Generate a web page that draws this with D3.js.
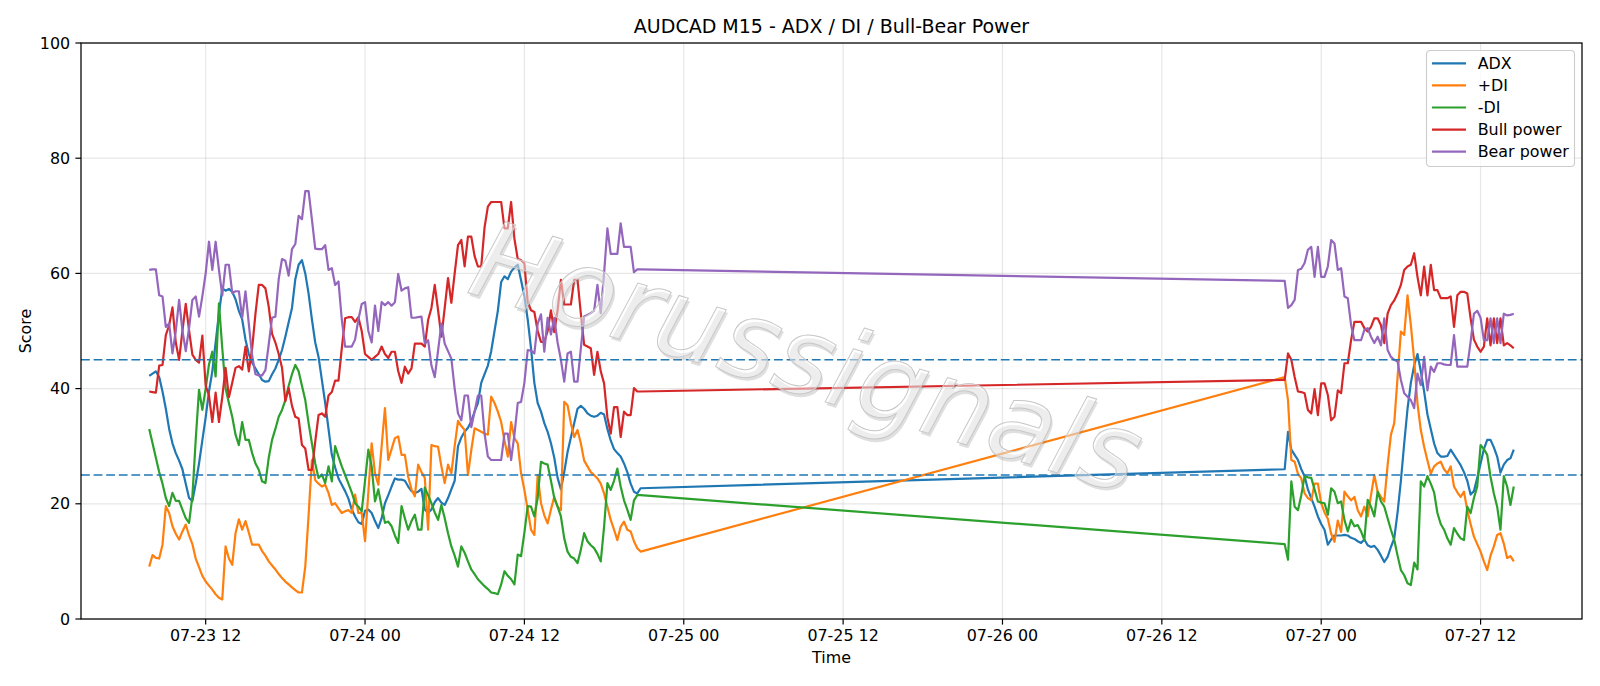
<!DOCTYPE html>
<html>
<head>
<meta charset="utf-8">
<script src="https://cdn.jsdelivr.net/npm/d3@7"></script>
<style>
  body { margin: 0; background: #fff; }
  text { font-family: 'DejaVu Sans', sans-serif; }
</style>
</head>
<body>
<svg id="mainsvg" width="1600" height="686"></svg>
<script>
// M15 bars, two trading sessions (weekend gap in between)
const sessions = [
  ['2026-07-23T07:45:00Z', '2026-07-24T20:45:00Z'],
  ['2026-07-26T21:15:00Z', '2026-07-27T14:30:00Z']
];

const adx = [
  42.2, 42.6, 43.0, 42.0, 39.5, 36.5, 33.0, 30.5, 28.8, 27.5,
  26.0, 23.5, 21.0, 20.5, 23.5, 27.0, 31.0, 35.0, 39.5, 43.0,
  48.0, 53.0, 57.4, 57.0, 57.3, 56.8, 55.5, 53.5, 52.0, 48.5,
  46.0, 44.5, 43.5, 42.5, 41.5, 41.2, 41.3, 42.5, 43.5, 45.0,
  46.7, 49.0, 51.5, 54.0, 59.0, 61.5, 62.3, 60.0, 56.5, 52.0,
  48.0, 45.5, 41.5, 37.5, 33.0, 28.5, 26.3, 24.4, 23.3, 22.2,
  20.9, 19.0, 17.8, 16.8, 16.5, 18.8, 19.0, 18.4, 17.0, 15.8,
  17.5, 20.1, 21.5, 23.0, 24.4, 24.2, 24.2, 24.0, 23.0, 22.2,
  21.9, 22.1, 22.6, 19.0, 18.4, 19.0, 20.3, 21.0, 20.2, 19.8,
  21.0, 22.5, 24.0, 30.0, 31.5, 32.5, 33.2, 34.3, 36.0, 37.5,
  41.0, 42.5, 44.0, 46.5, 50.0, 53.5, 58.5, 59.5, 59.0, 60.3,
  61.0, 61.5, 58.8, 56.0, 52.0, 47.0, 41.0, 37.5, 36.0, 34.0,
  32.5, 30.5, 28.0, 24.5, 22.5, 25.5, 29.0, 31.5, 34.0, 36.5,
  37.0, 36.5, 35.7, 35.3, 35.1, 35.3, 35.8, 35.5, 33.0, 31.0,
  29.5, 28.8, 28.2, 27.0, 25.5, 23.5, 22.1, 21.8, 22.7,
  // session 2
  26.0, 32.5, 29.4, 28.5, 27.6, 26.0, 24.8, 22.5, 21.0, 19.5,
  17.8, 16.5, 15.5, 12.9, 13.8, 14.5, 14.5, 14.5, 14.6, 14.5,
  14.1, 13.9, 13.5, 13.2, 13.8, 12.8, 12.5, 12.7, 12.0, 11.0,
  9.9, 10.8, 12.5, 14.0, 18.5, 24.0, 30.5, 36.5, 41.0, 44.0,
  46.0, 43.0, 39.5, 35.5, 33.0, 30.5, 28.8, 28.2, 28.2, 28.3,
  29.4, 28.5, 27.6, 26.7, 25.5, 24.0, 21.6, 22.2, 24.5, 27.0,
  29.5, 31.1, 31.1, 29.8, 28.2, 25.4, 26.8, 27.6, 27.9, 29.4
];

const plusDi = [
  9.1, 11.1, 10.6, 10.5, 12.9, 19.6, 18.4, 16.1, 14.8, 13.8,
  15.2, 16.4, 14.5, 13.0, 10.5, 9.0, 7.5, 6.5, 5.8, 5.1,
  4.3, 3.7, 3.4, 12.6, 10.5, 9.4, 14.9, 17.3, 15.5, 17.0,
  15.0, 12.9, 12.9, 12.9, 11.8, 11.0, 10.0, 9.3, 8.6, 7.8,
  7.1, 6.5, 6.0, 5.5, 5.0, 4.6, 4.6, 9.1, 18.0, 27.6,
  24.1, 23.5, 23.0, 23.3, 21.9, 19.8, 20.1, 19.2, 18.4, 18.7,
  18.9, 18.4, 21.6, 18.4, 18.4, 13.5, 22.0, 30.5, 25.3, 23.3,
  30.0, 36.6, 27.6, 29.5, 31.4, 31.7, 28.5, 28.5, 24.7, 22.5,
  21.3, 26.8, 25.5, 24.5, 15.5, 30.2, 30.0, 29.9, 26.5, 23.6,
  26.8, 25.3, 30.0, 34.4, 33.5, 32.8, 25.0, 29.3, 33.1, 32.8,
  32.5, 32.2, 32.0, 38.6, 37.5, 36.0, 34.2, 31.0, 28.2, 34.2,
  31.4, 30.5, 25.3, 22.4, 19.0, 15.5, 14.6, 25.0, 20.1, 18.0,
  16.6, 19.0, 21.2, 19.5, 18.9, 37.7, 37.1, 34.0, 31.6, 32.8,
  30.5, 27.5, 26.5, 25.5, 25.0, 24.4, 23.5, 21.8, 19.5, 17.2,
  15.5, 13.7, 16.0, 16.9, 15.5, 15.2, 13.5, 12.3, 11.7,
  // session 2
  42.0, 38.0, 27.6, 27.3, 25.2, 24.4, 21.8, 21.0, 20.6, 23.5,
  23.5, 20.1, 18.5, 17.4, 14.8, 13.4, 17.1, 15.1, 22.1, 21.3,
  20.6, 21.2, 18.9, 17.8, 19.5, 17.8, 21.5, 25.0, 22.1, 21.2,
  20.4, 26.7, 32.0, 34.0, 42.0, 49.9, 49.3, 56.2, 51.0, 45.0,
  37.4, 32.8, 29.9, 27.5, 25.2, 26.5, 27.0, 27.3, 26.0, 25.3,
  26.5, 23.0, 22.0, 21.2, 22.1, 18.9, 16.5, 14.3, 13.0, 11.7,
  10.0, 8.5, 11.0, 12.6, 14.6, 14.9, 13.1, 10.6, 10.9, 10.0
];

const minusDi = [
  33.0, 30.5, 28.0, 25.5, 23.5, 21.0, 19.6, 21.9, 20.5, 20.5,
  19.0, 17.5, 16.7, 21.3, 31.1, 39.8, 36.3, 40.0, 44.2, 46.4,
  42.1, 54.8, 47.0, 40.0, 37.5, 35.1, 32.0, 30.2, 34.2, 31.1,
  31.1, 28.8, 27.0, 25.9, 23.9, 23.6, 28.0, 31.1, 33.0, 35.1,
  36.3, 38.0, 40.5, 42.5, 44.1, 43.0, 40.5, 38.0, 34.0, 30.5,
  27.0, 24.5, 25.1, 23.6, 26.5, 23.9, 30.0, 28.2, 26.5, 25.0,
  23.5, 22.0, 20.1, 19.5, 18.7, 24.0, 29.4, 26.5, 20.4, 22.5,
  19.5, 16.7, 16.9, 16.1, 14.5, 13.2, 19.6, 17.5, 15.5, 17.0,
  18.1, 15.5, 15.5, 22.8, 21.5, 20.1, 18.5, 17.2, 19.8, 17.5,
  14.9, 12.6, 11.0, 9.1, 12.6, 11.5, 10.0, 8.6, 7.8, 6.9,
  6.3, 5.7, 5.2, 4.6, 4.5, 4.3, 6.0, 8.3, 7.5, 6.9,
  6.0, 11.2, 10.9, 15.0, 19.6, 19.5, 17.8, 21.0, 27.3, 27.0,
  26.8, 24.0, 21.0, 19.5, 17.8, 14.0, 11.7, 10.8, 10.5, 9.7,
  12.0, 14.9, 13.5, 12.8, 12.3, 11.3, 10.0, 16.0, 23.6, 22.4,
  24.0, 26.1, 23.0, 20.6, 19.0, 17.2, 20.6, 21.5, 21.5,
  // session 2
  13.0, 10.3, 23.9, 19.5, 18.9, 21.5, 24.8, 24.6, 24.5, 22.5,
  20.4, 20.2, 20.1, 18.1, 22.7, 22.1, 20.1, 20.4, 17.2, 15.2,
  17.2, 16.1, 16.3, 15.2, 13.7, 20.7, 19.5, 17.8, 22.1, 20.4,
  19.5, 17.5, 15.5, 13.7, 11.0, 8.5, 7.6, 6.2, 5.9, 9.8,
  8.6, 23.9, 23.0, 24.8, 23.5, 22.0, 18.4, 16.5, 15.5, 14.0,
  12.9, 15.8, 14.8, 14.0, 13.7, 19.5, 18.4, 21.0, 23.0, 30.2,
  29.5, 28.5, 24.7, 21.8, 19.5, 15.5, 24.8, 23.0, 19.8, 23.0
];

const bullPower = [
  39.5, 39.4, 39.3, 44.0, 44.1, 49.3, 51.0, 54.1, 48.0, 45.0,
  50.0, 54.7, 50.1, 45.9, 45.0, 44.5, 49.2, 40.5, 38.8, 34.2,
  39.3, 34.2, 38.5, 43.6, 38.5, 41.0, 43.6, 43.9, 43.3, 47.3,
  43.0, 47.0, 53.0, 58.0, 58.0, 57.4, 54.2, 49.5, 48.0, 46.0,
  43.6, 37.8, 40.1, 37.0, 35.1, 34.8, 30.2, 29.6, 25.9, 25.9,
  30.8, 35.4, 35.7, 35.1, 38.8, 39.4, 41.4, 41.4, 47.0, 52.2,
  52.4, 52.4, 51.6, 52.4, 50.0, 46.0, 45.5, 45.0, 45.5, 46.0,
  47.3, 46.0, 45.3, 46.4, 46.4, 43.0, 41.0, 43.8, 42.6, 43.5,
  47.8, 47.8, 47.8, 47.3, 51.9, 54.0, 58.0, 53.6, 49.0, 54.0,
  59.2, 54.9, 60.0, 64.9, 65.8, 61.2, 66.4, 66.4, 63.0, 61.2,
  61.2, 68.0, 71.6, 72.4, 72.4, 72.4, 72.4, 67.8, 67.8, 72.4,
  66.0, 62.5, 62.3, 61.7, 55.0, 53.6, 53.3, 50.0, 48.1, 48.1,
  50.0, 53.6, 49.8, 53.6, 58.9, 54.6, 54.6, 54.6, 58.9, 58.9,
  53.0, 47.6, 47.3, 47.0, 42.4, 46.4, 43.0, 40.9, 35.0, 32.2,
  36.8, 36.8, 31.6, 36.0, 35.4, 35.4, 40.1, 39.5, 39.5,
  // session 2
  41.5, 46.1, 45.0, 42.0, 39.5, 39.4, 39.2, 36.3, 35.7, 39.9,
  35.4, 40.9, 40.9, 38.9, 34.5, 35.1, 39.7, 39.2, 44.4, 44.4,
  48.4, 51.6, 51.6, 51.6, 50.5, 49.9, 50.7, 52.2, 52.2, 51.0,
  47.9, 53.0, 54.5, 55.3, 56.5, 58.0, 60.6, 61.2, 61.5, 63.5,
  59.4, 56.2, 61.2, 56.2, 61.5, 57.1, 57.1, 55.7, 55.7, 55.7,
  56.0, 50.7, 56.2, 56.8, 56.8, 56.5, 52.2, 48.5, 47.3, 46.4,
  47.3, 52.2, 47.5, 52.2, 47.9, 52.2, 47.5, 47.9, 47.5, 47.0
];

const bearPower = [
  60.6, 60.7, 60.7, 56.2, 56.0, 50.7, 51.3, 46.1, 50.0, 55.4,
  50.1, 46.5, 50.5, 55.4, 56.0, 52.5, 56.0, 60.0, 65.5, 60.6,
  65.5, 60.6, 56.2, 61.5, 61.5, 56.6, 56.9, 56.9, 52.3, 56.9,
  51.2, 45.7, 42.5, 42.3, 42.3, 43.2, 47.7, 52.3, 52.5, 59.0,
  62.5, 62.2, 59.6, 64.2, 65.1, 70.0, 69.4, 74.3, 74.3, 69.4,
  64.3, 64.2, 64.2, 64.9, 60.6, 60.9, 58.0, 58.6, 52.0, 47.3,
  47.3, 47.3, 48.5, 52.0, 54.7, 55.0, 50.0, 48.0, 54.4, 50.0,
  55.0, 54.5, 55.0, 54.4, 55.0, 59.9, 57.0, 57.4, 57.6, 52.3,
  52.3, 52.4, 52.5, 47.8, 48.4, 44.0, 42.0, 46.6, 51.3, 47.8,
  46.5, 45.2, 40.0, 35.7, 34.5, 38.8, 38.8, 33.3, 36.0, 38.8,
  38.8, 32.2, 28.2, 27.6, 27.6, 27.6, 27.6, 32.2, 32.2, 27.6,
  32.0, 37.5, 37.7, 41.0, 46.7, 46.6, 46.1, 51.3, 52.9, 46.4,
  52.3, 49.4, 52.3, 48.0, 45.0, 41.2, 46.1, 46.4, 41.2, 41.2,
  47.0, 52.5, 52.8, 53.1, 53.5, 58.0, 53.1, 60.0, 67.8, 63.4,
  63.4, 63.4, 68.7, 64.6, 64.6, 64.6, 60.2, 60.7, 60.7,
  // session 2
  58.7, 54.0, 54.5, 55.4, 60.6, 60.8, 61.8, 64.1, 64.6, 59.4,
  64.6, 59.4, 59.4, 61.2, 65.8, 65.2, 60.6, 60.9, 56.0, 55.7,
  51.0, 48.4, 48.4, 48.4, 50.2, 50.5, 49.0, 47.9, 49.0, 47.5,
  52.2, 46.7, 45.5, 45.0, 44.7, 41.5, 39.2, 38.6, 38.0, 36.6,
  42.6, 40.6, 45.5, 39.7, 43.8, 42.9, 44.4, 44.4, 44.2, 44.1,
  44.1, 49.3, 43.8, 43.8, 43.8, 43.8, 48.1, 53.0, 53.5, 52.3,
  48.4, 48.4, 52.2, 47.9, 52.2, 47.9, 53.0, 52.7, 52.8, 53.0
];

const seriesNames = ['ADX', '+DI', '-DI', 'Bull power', 'Bear power'];
const seriesColors = ['#1f77b4', '#ff7f0e', '#2ca02c', '#d62728', '#9467bd'];
const levels = [45, 25];
const yTicks = [0, 20, 40, 60, 80, 100];

const svg = d3.select('#mainsvg');
const width = +svg.attr('width');
const height = +svg.attr('height');
const margin = { top: 43, right: 18, bottom: 67, left: 81 };
const innerWidth = width - margin.left - margin.right;
const innerHeight = height - margin.top - margin.bottom;
const fontSize = 15.9;

const bar = d3.utcMinute.every(15);
const times = sessions.flatMap(([a, b]) => bar.range(new Date(a), new Date(+new Date(b) + 1)));

const [t0, t1] = d3.extent(times);
const pad = (t1 - t0) * 0.05;
const xScale = d3.scaleUtc()
  .domain([new Date(+t0 - pad), new Date(+t1 + pad)])
  .range([0, innerWidth]);
const yScale = d3.scaleLinear()
  .domain([0, 100])
  .range([innerHeight, 0]);

const xTicks = xScale.ticks(d3.utcHour.every(12));
const xFormat = d3.utcFormat('%m-%d %H');

const g = svg.append('g')
  .attr('id', 'maingroup')
  .attr('transform', `translate(${margin.left}, ${margin.top})`);

// grid
const grid = g.append('g').attr('stroke', '#b0b0b0').attr('stroke-opacity', 0.3).attr('stroke-width', 1.2);
grid.selectAll('.gx').data(xTicks).join('line')
  .attr('x1', d => xScale(d)).attr('x2', d => xScale(d))
  .attr('y1', 0).attr('y2', innerHeight);
grid.selectAll('.gy').data(yTicks).join('line')
  .attr('x1', 0).attr('x2', innerWidth)
  .attr('y1', d => yScale(d)).attr('y2', d => yScale(d));

// series
const allSeries = [adx, plusDi, minusDi, bullPower, bearPower];
const line = d3.line()
  .x((d, i) => xScale(times[i]))
  .y(d => yScale(d));

g.append('g').selectAll('path').data(allSeries).join('path')
  .attr('d', d => line(d))
  .attr('fill', 'none')
  .attr('stroke', (d, i) => seriesColors[i])
  .attr('stroke-width', 2.2)
  .attr('stroke-linejoin', 'round');

// threshold levels
g.append('g').selectAll('line').data(levels).join('line')
  .attr('x1', 0).attr('x2', innerWidth)
  .attr('y1', d => yScale(d)).attr('y2', d => yScale(d))
  .attr('stroke', '#1f77b4')
  .attr('stroke-width', 1.6)
  .attr('stroke-dasharray', '8.8,3.8');

// watermark
const wm = g.append('g')
  .attr('transform', `translate(${796 - margin.left}, ${393 - margin.top}) rotate(17)`)
  .style('font-style', 'italic')
  .style('font-size', '108px')
  .attr('text-anchor', 'middle');
wm.append('text').text('Horussignals')
  .attr('x', 2.5).attr('y', 2.5)
  .attr('fill', '#808080').attr('fill-opacity', 0.25);
wm.append('text').text('Horussignals')
  .attr('fill', '#ffffff').attr('fill-opacity', 0.45)
  .attr('stroke', '#c8c8c8').attr('stroke-width', 1);

// ticks and tick labels
const xAxisG = g.append('g').attr('transform', `translate(0, ${innerHeight})`);
xAxisG.selectAll('line').data(xTicks).join('line')
  .attr('x1', d => xScale(d)).attr('x2', d => xScale(d))
  .attr('y1', 0).attr('y2', 5.6)
  .attr('stroke', '#000').attr('stroke-width', 1.2);
xAxisG.selectAll('text').data(xTicks).join('text')
  .text(d => xFormat(d))
  .attr('x', d => xScale(d)).attr('y', 22.1)
  .attr('text-anchor', 'middle')
  .attr('font-size', fontSize);

const yAxisG = g.append('g');
yAxisG.selectAll('line').data(yTicks).join('line')
  .attr('x1', -5.6).attr('x2', 0)
  .attr('y1', d => yScale(d)).attr('y2', d => yScale(d))
  .attr('stroke', '#000').attr('stroke-width', 1.2);
yAxisG.selectAll('text').data(yTicks).join('text')
  .text(d => d)
  .attr('x', -10.8).attr('y', d => yScale(d) + 5.5)
  .attr('text-anchor', 'end')
  .attr('font-size', fontSize);

// frame
g.append('rect')
  .attr('width', innerWidth).attr('height', innerHeight)
  .attr('fill', 'none').attr('stroke', '#000').attr('stroke-width', 1.25);

// labels
svg.append('text').text('AUDCAD M15 - ADX / DI / Bull-Bear Power')
  .attr('x', margin.left + innerWidth / 2).attr('y', 33.3)
  .attr('text-anchor', 'middle').attr('font-size', 19);
svg.append('text').text('Time')
  .attr('x', margin.left + innerWidth / 2).attr('y', 662.5)
  .attr('text-anchor', 'middle').attr('font-size', fontSize);
svg.append('text').text('Score')
  .attr('transform', `translate(30.5, ${margin.top + innerHeight / 2}) rotate(-90)`)
  .attr('text-anchor', 'middle').attr('font-size', fontSize);

// legend
const lg = svg.append('g').attr('transform', 'translate(1426.5, 50.5)');
lg.append('rect')
  .attr('width', 148).attr('height', 116).attr('rx', 3.5)
  .attr('fill', '#fff').attr('fill-opacity', 0.8)
  .attr('stroke', '#cccccc').attr('stroke-width', 1.1);
const rows = lg.selectAll('.row').data(seriesNames).join('g')
  .attr('transform', (d, i) => `translate(0, ${12.8 + i * 22.1})`);
rows.append('line')
  .attr('x1', 5.5).attr('x2', 39.5)
  .attr('stroke', (d, i) => seriesColors[i]).attr('stroke-width', 2.2);
rows.append('text').text(d => d)
  .attr('x', 51.2).attr('y', 5.6)
  .attr('font-size', fontSize);
</script>
</body>
</html>
